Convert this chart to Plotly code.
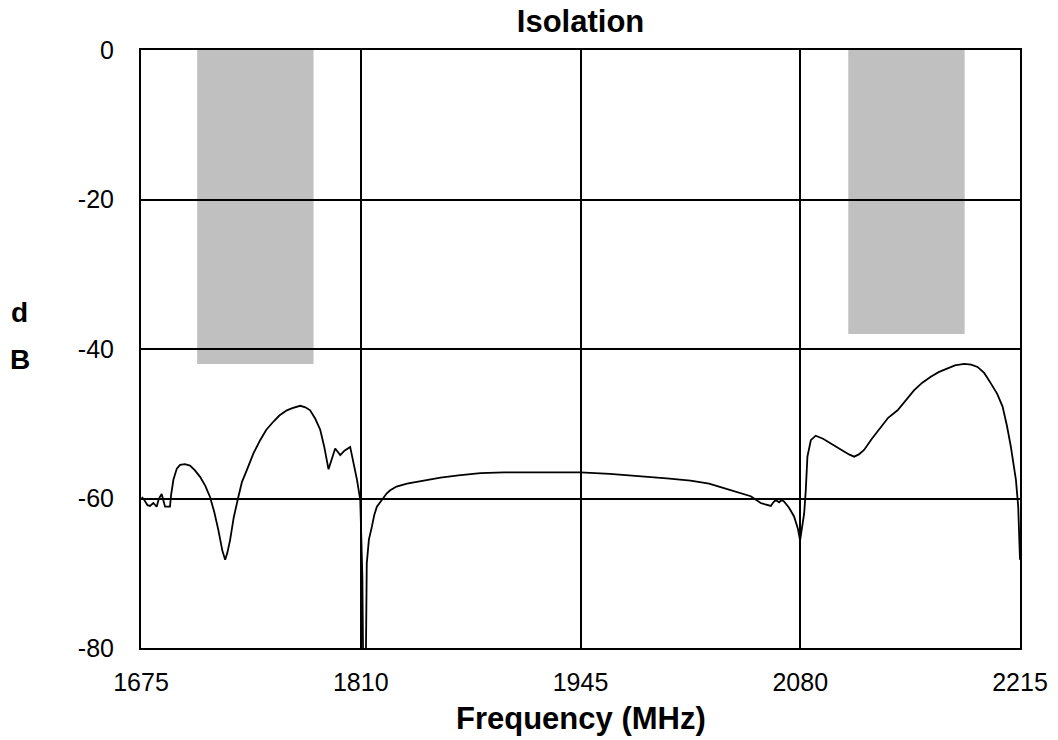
import plotly.graph_objects as go

# ---- data ----
freq_mhz = [
    1675.5, 1677, 1679, 1680.5, 1682.6, 1684.6, 1686, 1687.7, 1688.8, 1689.8,
    1692.8, 1693.5, 1694.9, 1697, 1699, 1702, 1705.1, 1708, 1711.3, 1714.5,
    1717.4, 1720, 1722.5, 1725, 1726.7, 1728, 1729.7, 1732, 1734.8, 1737,
    1740, 1744, 1748.2, 1752, 1756.4, 1760, 1764.6, 1768, 1772.8, 1776,
    1778.9, 1782, 1785.1, 1787.5, 1790.2, 1792, 1794.3, 1797.4, 1800, 1803.5,
    1805.5, 1807.7, 1809.7, 1811, 1811.6, 1813.0, 1813.7, 1815, 1816.8, 1818.3,
    1819.9, 1822, 1824, 1826, 1828.1, 1832, 1838.4, 1848, 1859, 1870,
    1883.5, 1898, 1912.2, 1930, 1945, 1963, 1981.9, 1998, 2012.6, 2024,
    2033.1, 2042, 2049.6, 2053, 2055.7, 2058.5, 2061.9, 2063.5, 2064.9, 2067,
    2068.5, 2070, 2073, 2076.2, 2078.5, 2079.9, 2081, 2082.4, 2083.4, 2084.4,
    2086.5, 2089.5, 2094, 2098.8, 2103, 2106.9, 2110, 2113.1, 2116, 2119.2,
    2124, 2129.5, 2134, 2139.8, 2145, 2150, 2155, 2160.2, 2165, 2170.5,
    2175, 2180.7, 2185, 2188.9, 2193, 2197.1, 2201, 2204.3, 2207, 2209.4,
    2211, 2212.5, 2213.9, 2214.5, 2215,
]
isolation_db = [
    -59.8, -60.2, -60.9, -61.0, -60.6, -61.1, -60.0, -59.4, -60.3, -61.1,
    -61.1, -59.5, -57.5, -56.0, -55.5, -55.4, -55.6, -56.2, -57.1, -58.3,
    -59.8, -61.8, -64.2, -67.0, -68.2, -67.3, -65.6, -62.5, -59.8, -57.8,
    -56.2, -54.0, -52.2, -50.8, -49.7, -48.9, -48.2, -47.9, -47.6, -47.8,
    -48.2, -49.3, -50.8, -53.0, -56.1, -55.0, -53.3, -54.2, -53.6, -53.1,
    -55.0, -57.5, -60.2, -70.5, -85.0, -85.0, -68.7, -65.5, -63.8, -62.2,
    -61.1, -60.5, -60.0, -59.3, -58.9, -58.4, -58.0, -57.6, -57.2, -56.9,
    -56.6, -56.5, -56.5, -56.5, -56.5, -56.7, -57.0, -57.3, -57.6, -58.0,
    -58.6, -59.2, -59.7, -60.2, -60.6, -60.8, -61.0, -60.5, -60.2, -60.5,
    -60.2, -60.4, -61.2, -62.4, -64.0, -65.6, -63.8, -62.0, -58.9, -54.4,
    -52.2, -51.6, -52.0, -52.6, -53.1, -53.7, -54.1, -54.4, -54.1, -53.5,
    -52.0, -50.4, -49.2, -48.2, -46.8, -45.5, -44.5, -43.7, -43.1, -42.6,
    -42.2, -42.0, -42.1, -42.4, -43.2, -44.6, -46.0, -47.7, -50.3, -53.1,
    -55.3, -57.5, -61.1, -64.5, -68.2,
]

# specification bands (start MHz, stop MHz, limit dB)
band_start = [1709.5, 2109.5]
band_stop = [1781, 2181]
band_limit = [-42, -38]

x_ticks = [1675, 1810, 1945, 2080, 2215]
y_ticks = [-80, -60, -40, -20, 0]

FONT = "Liberation Sans, Arial, sans-serif"

fig = go.Figure()

fig.add_trace(go.Scatter(
    x=freq_mhz, y=isolation_db, mode="lines",
    line=dict(color="black", width=1.8), showlegend=False,
    hoverinfo="x+y",
))

shapes = []
for x0, x1, lim in zip(band_start, band_stop, band_limit):
    shapes.append(dict(type="rect", xref="x", yref="y", x0=x0, x1=x1,
                       y0=lim, y1=0, fillcolor="#C0C0C0",
                       line=dict(width=0), layer="below"))

fig.update_layout(
    width=1058, height=740,
    margin=dict(l=141, r=38, t=50, b=92, autoexpand=False),
    paper_bgcolor="white", plot_bgcolor="white",
    shapes=shapes,
    font=dict(family=FONT, size=25, color="black"),
    title=dict(text="<b>Isolation</b>", x=0.5487, xanchor="center",
               y=0.9716, yanchor="middle",
               font=dict(family=FONT, size=31, color="black")),
    xaxis=dict(range=[1675, 2215], tickvals=x_ticks,
               ticktext=[str(v) for v in x_ticks],
               showgrid=True, gridcolor="black", gridwidth=1.5,
               showline=True, linecolor="black", linewidth=2, mirror=True,
               ticks="outside", ticklen=11, tickcolor="rgba(0,0,0,0)",
               zeroline=False,
               tickfont=dict(family=FONT, size=25)),
    yaxis=dict(range=[-80, 0], tickvals=y_ticks,
               ticktext=[str(v) for v in y_ticks],
               showgrid=True, gridcolor="black", gridwidth=1.5,
               showline=True, linecolor="black", linewidth=2, mirror=True,
               ticks="outside", ticklen=20, tickcolor="rgba(0,0,0,0)",
               zeroline=False,
               tickfont=dict(family=FONT, size=25)),
    annotations=[
        dict(text="<b>Frequency (MHz)</b>", xref="paper", yref="paper",
             x=0.5, y=-0.1185, xanchor="center", yanchor="middle",
             showarrow=False, font=dict(family=FONT, size=31, color="black")),
        dict(text="<b>d</b>", xref="paper", yref="paper",
             x=-0.1377, y=0.561, xanchor="center", yanchor="middle",
             showarrow=False, font=dict(family=FONT, size=28, color="black")),
        dict(text="<b>B</b>", xref="paper", yref="paper",
             x=-0.1377, y=0.483, xanchor="center", yanchor="middle",
             showarrow=False, font=dict(family=FONT, size=28, color="black")),
    ],
)

fig.write_html("out.html", config={"displayModeBar": False},
               post_script="document.body.style.margin='0';")
